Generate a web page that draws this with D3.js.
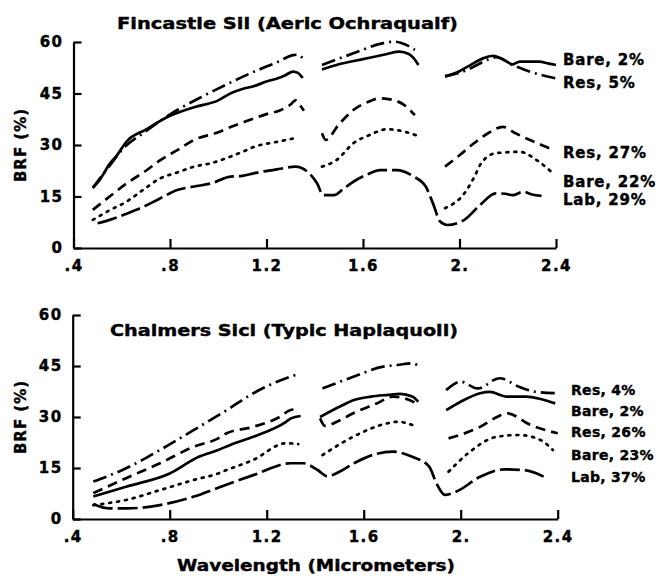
<!DOCTYPE html>
<html>
<head>
<meta charset="utf-8">
<script src="https://cdn.jsdelivr.net/npm/d3@7"></script>
<style>
  body { margin: 0; background: #fff; }
  svg text { font-family: "DejaVu Sans", "Liberation Sans", Arial, sans-serif; font-weight: bold; fill: #000; stroke: #000; stroke-width: 0.4px; }
</style>
</head>
<body>
<svg id="chart" width="660" height="576"></svg>
<script>
// tick values and labels (shared by both panels)
var xTicks = [0.4, 0.8, 1.2, 1.6, 2.0, 2.4];
var xTickLabels = [".4", ".8", "1.2", "1.6", "2.", "2.4"];
var yTicks = [0, 15, 30, 45, 60];

// Fincastle Sil -- [wavelength um, BRF %], null breaks the line at water bands
var fincBare2 = [[0.48,17.5],[0.51,20],[0.55,24.5],[0.58,27],[0.62,31],[0.7,34.5],[0.8,38.5],[0.9,41],[1.0,43],[1.05,45],[1.1,46.3],[1.15,47.2],[1.2,48.5],[1.25,49.5],[1.28,50.4],[1.31,51.4],[1.33,51],[1.35,49.5],[1.38,null],
  [1.43,52],[1.5,53.5],[1.6,55],[1.7,56.5],[1.75,57.2],[1.79,56.5],[1.81,55.3],[1.83,53.3],[1.88,null],
  [1.94,50],[2.0,51.5],[2.05,53.5],[2.1,55.3],[2.14,56],[2.18,55],[2.22,53.5],[2.25,54.3],[2.3,54.3],[2.33,54.3],[2.37,53.7],[2.4,53.3]];
var fincRes5 = [[0.48,17.5],[0.55,24],[0.6,28.5],[0.7,34],[0.83,40.2],[0.92,43.6],[1.03,47.5],[1.15,51.4],[1.25,54.3],[1.31,56.2],[1.33,56.3],[1.35,55.3],[1.38,null],
  [1.43,53.3],[1.56,56.7],[1.68,59.6],[1.73,60.1],[1.78,59.1],[1.815,57.7],[1.88,null],
  [1.94,50],[2.03,51.8],[2.1,54.3],[2.15,55.6],[2.22,53.3],[2.29,51.4],[2.4,49.4]];
var fincRes27 = [[0.48,11.1],[0.55,15],[0.62,18.8],[0.7,22.5],[0.76,25.6],[0.83,28.5],[0.9,31.5],[1.0,33.7],[1.04,34.9],[1.1,36.5],[1.15,37.8],[1.2,39],[1.26,40.2],[1.3,41.8],[1.32,43],[1.34,41.5],[1.355,40],[1.38,null],
  [1.43,33.4],[1.445,31.5],[1.5,36],[1.56,40.2],[1.62,42.5],[1.67,43.6],[1.73,43],[1.77,41.7],[1.815,38.7],[1.88,null],
  [1.94,23.7],[2.0,27],[2.06,30.5],[2.12,33.5],[2.18,35.3],[2.23,33.5],[2.29,31.5],[2.34,30],[2.39,28.5]];
var fincBare22 = [[0.48,8.2],[0.55,11],[0.62,13.5],[0.69,17],[0.76,20.3],[0.83,22],[0.9,23.7],[0.97,24.7],[1.05,26.6],[1.1,28],[1.15,29.5],[1.25,31],[1.33,32.2],[1.38,null],
  [1.43,23.7],[1.49,25.6],[1.56,30.5],[1.63,33],[1.7,34.6],[1.77,33.9],[1.83,32.6],[1.88,null],
  [1.94,11.6],[2.02,15.9],[2.06,20.5],[2.09,24.7],[2.15,27.6],[2.25,28],[2.32,25.6],[2.39,21.6]];
var fincLab29 = [[0.5,7.2],[0.55,8.2],[0.62,10],[0.69,12],[0.76,14.5],[0.83,16.9],[0.9,17.9],[0.97,18.8],[1.05,20.8],[1.1,21],[1.15,21.8],[1.25,23],[1.32,23.7],[1.37,22.2],[1.41,18.8],[1.435,15.4],[1.48,15.4],[1.52,17.3],[1.56,19.3],[1.62,21.5],[1.67,22.7],[1.74,22.7],[1.81,20.8],[1.86,17.9],[1.89,13],[1.92,7.7],[1.95,6.7],[2.0,7.5],[2.02,8.2],[2.085,12.5],[2.15,15.9],[2.19,15.8],[2.22,15.4],[2.265,16.4],[2.3,15.6],[2.34,15.2]];

// Chalmers Sicl
var chalRes4 = [[0.485,11],[0.62,14.9],[0.76,20.3],[0.9,26.2],[1.035,32],[1.145,37],[1.28,41.4],[1.33,42.6],[1.38,null],
  [1.43,38.4],[1.56,41.9],[1.68,44.8],[1.74,45.3],[1.8,45.8],[1.83,44.8],[1.88,null],
  [1.94,37.9],[2.0,40.4],[2.07,38.4],[2.16,41.4],[2.24,38.9],[2.31,37.4],[2.39,37]];
var chalBare2 = [[0.485,6.6],[0.62,9.5],[0.8,13.4],[0.92,18.3],[1.0,20.3],[1.05,21.8],[1.145,24.2],[1.28,28.6],[1.3,29.6],[1.34,30.3],[1.38,null],
  [1.42,30],[1.5,33],[1.56,35],[1.63,36],[1.7,36.5],[1.75,36.8],[1.8,36],[1.825,34.5],[1.88,null],
  [1.94,32],[2.0,34.5],[2.08,37],[2.12,37.4],[2.19,36],[2.27,36],[2.33,35.3],[2.39,34]];
var chalRes26 = [[0.485,7.6],[0.62,12],[0.76,16.4],[0.9,21.3],[1.0,23.7],[1.035,25.2],[1.145,27.1],[1.255,30.1],[1.296,32],[1.324,32.3],[1.38,null],
  [1.42,29.6],[1.44,27.4],[1.5,29],[1.557,31.1],[1.654,34],[1.72,36],[1.78,35.2],[1.818,34],[1.88,null],
  [1.95,23.7],[2.08,27.1],[2.15,30],[2.19,31.1],[2.29,27.6],[2.4,25.2]];
var chalBare23 = [[0.485,4.1],[0.62,5.6],[0.76,8.5],[0.9,11.5],[1.0,13.4],[1.035,14.4],[1.145,17.4],[1.28,22.3],[1.33,22],[1.38,null],
  [1.43,18.8],[1.557,24.2],[1.695,28.1],[1.74,28.6],[1.82,27.1],[1.88,null],
  [1.95,13.9],[2.03,19.3],[2.15,24.2],[2.24,24.7],[2.33,23.2],[2.38,20.3]];
var chalLab37 = [[0.485,4.4],[0.55,3.1],[0.62,3.1],[0.76,4.1],[0.9,6.6],[1.0,9.2],[1.145,12.9],[1.3,16.4],[1.35,16.4],[1.41,14.4],[1.45,12.6],[1.5,13.9],[1.56,16.4],[1.65,19.1],[1.72,19.8],[1.8,18.3],[1.87,15.4],[1.9,10.5],[1.935,7.1],[1.98,8],[2.08,12.4],[2.18,14.6],[2.26,14.4],[2.355,12]];

var fincLabels = ["Bare, 2%", "Res, 5%", "Res, 27%", "Bare, 22%", "Lab, 29%"];
var chalLabels = ["Res, 4%", "Bare, 2%", "Res, 26%", "Bare, 23%", "Lab, 37%"];

var dashes = {
  solid: null,
  dashdot: "14,5,2,5",
  dash: "10,6",
  dot: "2,6",
  longdash: "20,5"
};

var svg = d3.select("#chart");

function drawPanel(p)
{
  var x = d3.scaleLinear().domain([0.4, 2.4]).range([p.left, p.right]);
  var y = d3.scaleLinear().domain([0, 60]).range([p.bottom, p.top]);

  var g = svg.append("g");

  var xAxis = d3.axisBottom(x)
      .tickValues(xTicks)
      .tickFormat(function(d, i) { return xTickLabels[i]; })
      .tickSizeInner(-9).tickSizeOuter(0).tickPadding(12);
  var yAxis = d3.axisLeft(y)
      .tickValues(yTicks)
      .tickSizeInner(-8).tickSizeOuter(0).tickPadding(10);

  g.append("g")
      .attr("transform", "translate(0," + p.bottom + ")")
      .call(xAxis);
  g.append("g")
      .attr("transform", "translate(" + p.left + ",0)")
      .call(yAxis);

  g.selectAll(".domain, .tick line")
      .attr("stroke", "#000")
      .attr("stroke-width", 2.2);
  g.selectAll(".tick text")
      .attr("font-size", 15)
      .style("letter-spacing", "1.5px");

  // title and y label
  g.append("text")
      .attr("x", p.titleX).attr("y", p.titleY)
      .attr("font-size", 16)
      .attr("textLength", p.titleW)
      .attr("lengthAdjust", "spacingAndGlyphs")
      .text(p.title);
  g.append("text")
      .attr("transform", "translate(" + 26 + "," + (p.top + p.bottom) / 2 + ") rotate(-90)")
      .attr("text-anchor", "middle")
      .attr("font-size", 15)
      .style("letter-spacing", "1px")
      .text("BRF (%)");

  var line = d3.line()
      .defined(function(d) { return d[1] != null; })
      .x(function(d) { return x(d[0]); })
      .y(function(d) { return y(d[1]); })
      .curve(d3.curveMonotoneX);

  g.selectAll("path.series")
    .data(p.series)
    .enter().append("path")
      .attr("class", "series")
      .attr("d", function(d) { return line(d.values); })
      .attr("fill", "none")
      .attr("stroke", "#000")
      .attr("stroke-width", 2.7)
      .attr("stroke-linecap", function(d) { return d.style == "dot" ? "round" : "butt"; })
      .attr("stroke-dasharray", function(d) { return dashes[d.style]; });

  g.selectAll("text.lab")
    .data(p.labels)
    .enter().append("text")
      .attr("class", "lab")
      .attr("x", p.labelX)
      .attr("y", function(d, i) { return p.labelY[i]; })
      .attr("dy", "0.36em")
      .attr("font-size", p.labelSize)
      .style("letter-spacing", p.labelSpacing)
      .text(function(d) { return d; });
}

drawPanel({
  left: 73.5, right: 556, top: 42, bottom: 248,
  title: "Fincastle Sil (Aeric Ochraqualf)", titleX: 117, titleY: 29, titleW: 341,
  series: [
    {values: fincBare2, style: "solid"},
    {values: fincRes5, style: "dashdot"},
    {values: fincRes27, style: "dash"},
    {values: fincBare22, style: "dot"},
    {values: fincLab29, style: "longdash"}
  ],
  labels: fincLabels, labelX: 563, labelY: [60, 83, 153, 182, 200],
  labelSize: 15, labelSpacing: "0.8px"
});

drawPanel({
  left: 72.7, right: 557.7, top: 315, bottom: 519,
  title: "Chalmers Sicl (Typic Haplaquoll)", titleX: 110, titleY: 336, titleW: 348,
  series: [
    {values: chalRes4, style: "dashdot"},
    {values: chalBare2, style: "solid"},
    {values: chalRes26, style: "dash"},
    {values: chalBare23, style: "dot"},
    {values: chalLab37, style: "longdash"}
  ],
  labels: chalLabels, labelX: 571, labelY: [390, 411, 432, 455, 477],
  labelSize: 14, labelSpacing: "0.3px"
});

svg.append("text")
    .attr("x", 177).attr("y", 571)
    .attr("font-size", 16)
    .attr("textLength", 278)
    .attr("lengthAdjust", "spacingAndGlyphs")
    .text("Wavelength (Micrometers)");
</script>
</body>
</html>
